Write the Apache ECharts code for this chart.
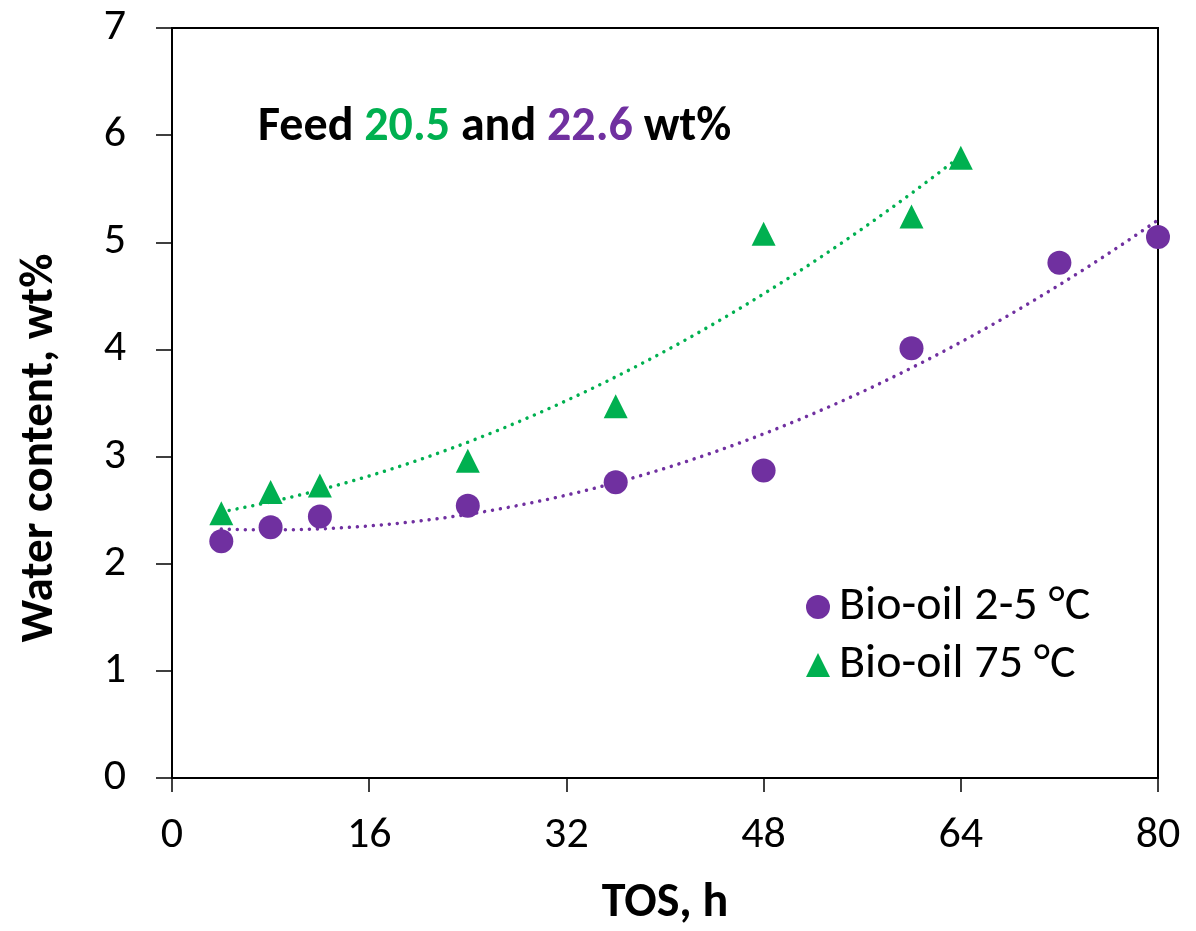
<!DOCTYPE html>
<html>
<head>
<meta charset="utf-8">
<script src="https://cdn.jsdelivr.net/npm/echarts@6/dist/echarts.min.js"></script>
<style>
  html, body { margin: 0; padding: 0; background: #fff; }
  #chart { width: 1196px; height: 931px; }
</style>
</head>
<body>
<div id="chart"></div>
<script>
// Time on stream (h) and water content (wt%) of the two bio-oil fractions
const tosCold = [4, 8, 12, 24, 36, 48, 60, 72, 80];
const waterCold = [2.21, 2.34, 2.44, 2.54, 2.76, 2.87, 4.01, 4.81, 5.05];
const tosHot = [4, 8, 12, 24, 36, 48, 60, 64];
const waterHot = [2.47, 2.67, 2.73, 2.96, 3.47, 5.08, 5.24, 5.79];

const nameCold = 'Bio-oil 2-5 °C';
const nameHot = 'Bio-oil 75 °C';
const xTicks = [0, 16, 32, 48, 64, 80];

const PURPLE = '#7030A0';
const GREEN = '#00B050';
const FONT = 'Carlito, "Open Sans", "Noto Sans", sans-serif';

// Second-order least-squares fit, as used for the dotted trendlines
function quadFit(xs, ys) {
  let s = [0, 0, 0, 0, 0], t = [0, 0, 0];
  for (let i = 0; i < xs.length; i++) {
    let p = 1;
    for (let k = 0; k < 5; k++) { s[k] += p; if (k < 3) t[k] += p * ys[i]; p *= xs[i]; }
  }
  const A = [[s[0], s[1], s[2], t[0]], [s[1], s[2], s[3], t[1]], [s[2], s[3], s[4], t[2]]];
  for (let c = 0; c < 3; c++) {
    for (let r = c + 1; r < 3; r++) {
      const f = A[r][c] / A[c][c];
      for (let k = c; k < 4; k++) A[r][k] -= f * A[c][k];
    }
  }
  const b = [0, 0, 0];
  for (let r = 2; r >= 0; r--) {
    let v = A[r][3];
    for (let k = r + 1; k < 3; k++) v -= A[r][k] * b[k];
    b[r] = v / A[r][r];
  }
  return b;
}
function trend(xs, ys) {
  const b = quadFit(xs, ys);
  const x0 = Math.min(...xs), x1 = Math.max(...xs);
  const out = [];
  for (let i = 0; i <= 60; i++) {
    const x = x0 + (x1 - x0) * i / 60;
    out.push([x, b[0] + b[1] * x + b[2] * x * x]);
  }
  return out;
}

const chart = echarts.init(document.getElementById('chart'), null, { renderer: 'canvas' });

const dotted = (color) => ({ color: color, width: 3.5, type: [0.01, 8], cap: 'round' });

chart.setOption({
  animation: false,
  backgroundColor: '#fff',
  grid: { left: 172, right: 38, top: 28, bottom: 153, show: true, borderColor: '#000', borderWidth: 2 },
  xAxis: {
    type: 'value', min: 0, max: 80, interval: 16,
    axisLine: { show: true, lineStyle: { color: '#000', width: 2 } },
    axisTick: { show: true, inside: false, length: 14, lineStyle: { color: '#000', width: 1.5 } },
    splitLine: { show: false },
    axisLabel: { color: '#000', fontSize: 44, fontFamily: FONT, margin: 36,
      formatter: v => xTicks.includes(v) ? String(v) : '' }
  },
  yAxis: {
    type: 'value', min: 0, max: 7, interval: 1,
    axisLine: { show: true, lineStyle: { color: '#000', width: 2 } },
    axisTick: { show: true, inside: false, length: 16, lineStyle: { color: '#000', width: 1.5 } },
    splitLine: { show: false },
    axisLabel: { color: '#000', fontSize: 44, fontFamily: FONT, margin: 46 }
  },
  legend: {
    orient: 'vertical', left: 801, top: 578, itemGap: 10, itemWidth: 24, itemHeight: 24,
    textStyle: { color: '#000', fontSize: 48, fontFamily: FONT, padding: [0, 0, 0, 4] },
    data: [{ name: nameCold, icon: 'circle' }, { name: nameHot, icon: 'triangle' }]
  },
  graphic: [
    {
      type: 'text', left: 258, top: 104,
      style: {
        text: '{b|Feed }{g|20.5}{b| and }{p|22.6}{b| wt%}',
        rich: {
          b: { fill: '#000', fontSize: 48, fontWeight: 'bold', fontFamily: FONT },
          g: { fill: GREEN, fontSize: 48, fontWeight: 'bold', fontFamily: FONT },
          p: { fill: PURPLE, fontSize: 48, fontWeight: 'bold', fontFamily: FONT }
        }
      }
    },
    {
      type: 'text', x: 40, y: 448, rotation: Math.PI / 2,
      style: { text: 'Water content, wt%', fill: '#000', fontSize: 47, fontWeight: 'bold',
        fontFamily: FONT, align: 'center', verticalAlign: 'middle' }
    },
    {
      type: 'text', x: 665, y: 904,
      style: { text: 'TOS, h', fill: '#000', fontSize: 48, fontWeight: 'bold',
        fontFamily: FONT, align: 'center', verticalAlign: 'middle' }
    }
  ],
  series: [
    {
      name: nameCold + ' trend', type: 'line', showSymbol: false, smooth: false,
      data: trend(tosCold, waterCold), lineStyle: dotted(PURPLE), z: 2, silent: true
    },
    {
      name: nameHot + ' trend', type: 'line', showSymbol: false, smooth: false,
      data: trend(tosHot, waterHot), lineStyle: dotted(GREEN), z: 2, silent: true
    },
    {
      name: nameCold, type: 'scatter', symbol: 'circle', symbolSize: 24,
      itemStyle: { color: PURPLE, opacity: 1 }, z: 3,
      data: tosCold.map((x, i) => [x, waterCold[i]])
    },
    {
      name: nameHot, type: 'scatter', symbol: 'triangle', symbolSize: 24,
      itemStyle: { color: GREEN, opacity: 1 }, z: 3,
      data: tosHot.map((x, i) => [x, waterHot[i]])
    }
  ]
});
</script>
</body>
</html>
